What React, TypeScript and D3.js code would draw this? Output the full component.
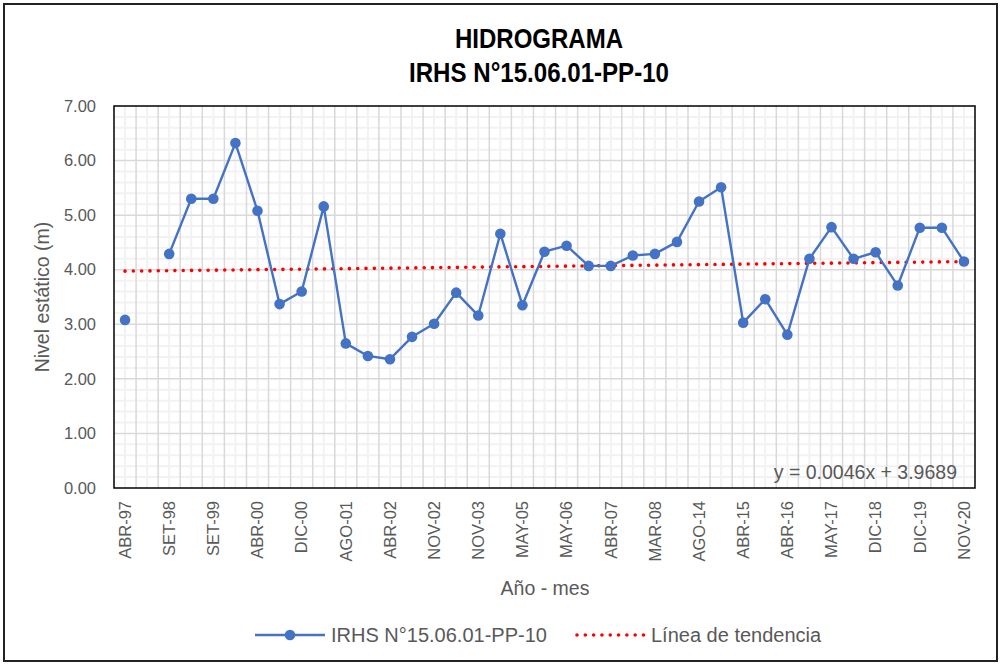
import { useEffect, useRef } from "react";
import * as d3 from "d3";

// 39 monthly readings; only every second category label is shown by the axis
const categories = [
  "ABR-97", "", "SET-98", "", "SET-99", "", "ABR-00", "", "DIC-00", "",
  "AGO-01", "", "ABR-02", "", "NOV-02", "", "NOV-03", "", "MAY-05", "",
  "MAY-06", "", "ABR-07", "", "MAR-08", "", "AGO-14", "", "ABR-15", "",
  "ABR-16", "", "MAY-17", "", "DIC-18", "", "DIC-19", "", "NOV-20",
];

const nivel: (number | null)[] = [
  3.08, null, 4.29, 5.30, 5.30, 6.32, 5.08, 3.37, 3.60, 5.16,
  2.65, 2.42, 2.36, 2.77, 3.01, 3.58, 3.16, 4.66, 3.35, 4.33,
  4.44, 4.07, 4.07, 4.26, 4.29, 4.51, 5.25, 5.51, 3.03, 3.46,
  2.81, 4.20, 4.78, 4.20, 4.32, 3.71, 4.77, 4.77, 4.15,
];

const yTicks = [0, 1, 2, 3, 4, 5, 6, 7];
const trendSlope = 0.0046;
const trendIntercept = 3.9689;

const seriesName = "IRHS N°15.06.01-PP-10";
const trendName = "Línea de tendencia";

const App = () => {
  const ref = useRef<SVGSVGElement>(null);

  useEffect(() => {
    const W = 1001, H = 664;
    const margin = { top: 106, right: 26, bottom: 176, left: 114 };
    const width = W - margin.left - margin.right;
    const height = H - margin.top - margin.bottom;
    const font = "'Liberation Sans', Arial, sans-serif";
    const grey = "#595959";
    const blue = "#4472C4";

    const svg = d3.select(ref.current);
    svg.selectAll("*").remove();

    svg.append("rect")
      .attr("x", 0).attr("y", 0).attr("width", W).attr("height", H)
      .attr("fill", "white");

    // outer chart border
    svg.append("rect")
      .attr("x", 4).attr("y", 4).attr("width", W - 8).attr("height", H - 7)
      .attr("fill", "none").attr("stroke", "#222").attr("stroke-width", 2);

    // title
    const title = svg.append("g")
      .attr("font-family", font).attr("font-weight", "bold")
      .attr("font-size", 28).attr("text-anchor", "middle").attr("fill", "black");
    title.append("text").attr("x", 539).attr("y", 48)
      .attr("textLength", 168).attr("lengthAdjust", "spacingAndGlyphs")
      .text("HIDROGRAMA");
    title.append("text").attr("x", 539).attr("y", 82)
      .attr("textLength", 260).attr("lengthAdjust", "spacingAndGlyphs")
      .text(seriesName);

    const chart = svg.append("g")
      .attr("transform", `translate(${margin.left},${margin.top})`);

    const x = d3.scaleBand()
      .domain(categories.map((_, i) => String(i)))
      .range([0, width]);
    const bw = x.bandwidth();
    const cx = (i: number) => (x(String(i)) as number) + bw / 2;

    const y = d3.scaleLinear().domain([0, 7]).range([height, 0]);

    // minor gridlines
    chart.append("g")
      .selectAll("line")
      .data(d3.range(0, 7.001, 0.2).filter((v) => Math.abs(v - Math.round(v)) > 0.01))
      .join("line")
      .attr("x1", 0).attr("x2", width)
      .attr("y1", (d) => y(d)).attr("y2", (d) => y(d))
      .attr("stroke", "#F2F2F2").attr("stroke-width", 2);
    chart.append("g")
      .selectAll("line")
      .data(categories.map((_, i) => i))
      .join("line")
      .attr("x1", (d) => cx(d)).attr("x2", (d) => cx(d))
      .attr("y1", 0).attr("y2", height)
      .attr("stroke", "#F2F2F2").attr("stroke-width", 2);

    // major gridlines
    chart.append("g")
      .selectAll("line")
      .data(yTicks.slice(1, -1))
      .join("line")
      .attr("x1", 0).attr("x2", width)
      .attr("y1", (d) => y(d)).attr("y2", (d) => y(d))
      .attr("stroke", "#D9D9D9").attr("stroke-width", 1.5);
    chart.append("g")
      .selectAll("line")
      .data(categories.slice(1).map((_, i) => i + 1))
      .join("line")
      .attr("x1", (d) => x(String(d)) as number).attr("x2", (d) => x(String(d)) as number)
      .attr("y1", 0).attr("y2", height)
      .attr("stroke", "#D9D9D9").attr("stroke-width", 1.5);

    // plot frame
    chart.append("rect")
      .attr("x", 0).attr("y", 0).attr("width", width).attr("height", height)
      .attr("fill", "none").attr("stroke", "black").attr("stroke-width", 1.5);

    // y tick labels
    chart.append("g")
      .selectAll("text")
      .data(yTicks)
      .join("text")
      .attr("x", -18).attr("y", (d) => y(d))
      .attr("dy", "0.35em")
      .attr("text-anchor", "end")
      .attr("font-family", font).attr("font-size", 16.5).attr("fill", grey)
      .text((d) => d.toFixed(2));

    // x tick labels
    chart.append("g")
      .selectAll("text")
      .data(categories.map((c, i) => ({ c, i })).filter((d) => d.c !== ""))
      .join("text")
      .attr("transform", (d) => `translate(${cx(d.i)},${height + 13}) rotate(-90)`)
      .attr("dy", "0.35em")
      .attr("text-anchor", "end")
      .attr("font-family", font).attr("font-size", 16.5).attr("fill", grey)
      .text((d) => d.c);

    // axis titles
    svg.append("text")
      .attr("transform", `translate(49,${margin.top + height / 2}) rotate(-90)`)
      .attr("text-anchor", "middle")
      .attr("font-family", font).attr("font-size", 19.5).attr("fill", grey)
      .text("Nivel estático (m)");
    svg.append("text")
      .attr("x", 545).attr("y", 595)
      .attr("text-anchor", "middle")
      .attr("font-family", font).attr("font-size", 19.5).attr("fill", grey)
      .text("Año - mes");

    // trend line
    const trend = d3.line<number>()
      .x((i) => cx(i))
      .y((i) => y(trendSlope * (i + 1) + trendIntercept));
    chart.append("path")
      .datum([0, categories.length - 1])
      .attr("d", trend)
      .attr("fill", "none")
      .attr("stroke", "#FF0000").attr("stroke-width", 3.6)
      .attr("stroke-linecap", "round")
      .attr("stroke-dasharray", "0.01 8.3");

    // data series
    const pts = nivel.map((v, i) => ({ v, i }));
    const line = d3.line<{ v: number | null; i: number }>()
      .defined((d) => d.v !== null)
      .x((d) => cx(d.i))
      .y((d) => y(d.v as number));
    chart.append("path")
      .datum(pts)
      .attr("d", line)
      .attr("fill", "none")
      .attr("stroke", blue).attr("stroke-width", 2.4)
      .attr("stroke-linejoin", "round");
    chart.append("g")
      .selectAll("circle")
      .data(pts.filter((d) => d.v !== null))
      .join("circle")
      .attr("cx", (d) => cx(d.i))
      .attr("cy", (d) => y(d.v as number))
      .attr("r", 5.3)
      .attr("fill", blue);

    // trend equation
    chart.append("text")
      .attr("x", width - 18).attr("y", height - 9)
      .attr("text-anchor", "end")
      .attr("font-family", font).attr("font-size", 19.5).attr("fill", grey)
      .text(`y = ${trendSlope}x + ${trendIntercept}`);

    // legend
    const legend = svg.append("g").attr("font-family", font).attr("font-size", 20).attr("fill", grey);
    legend.append("line")
      .attr("x1", 255).attr("x2", 325).attr("y1", 635).attr("y2", 635)
      .attr("stroke", blue).attr("stroke-width", 2.4);
    legend.append("circle").attr("cx", 290).attr("cy", 635).attr("r", 5.3).attr("fill", blue);
    legend.append("text").attr("x", 331).attr("y", 635).attr("dy", "0.35em").text(seriesName);
    legend.append("line")
      .attr("x1", 577).attr("x2", 645).attr("y1", 635).attr("y2", 635)
      .attr("stroke", "#FF0000").attr("stroke-width", 3.6)
      .attr("stroke-linecap", "round")
      .attr("stroke-dasharray", "0.01 8.3");
    legend.append("text").attr("x", 651).attr("y", 635).attr("dy", "0.35em").text(trendName);
  }, []);

  return (
    <svg
      ref={ref}
      width={1001}
      height={664}
      style={{ position: "absolute", left: 0, top: 0 }}
    />
  );
};

export default App;
